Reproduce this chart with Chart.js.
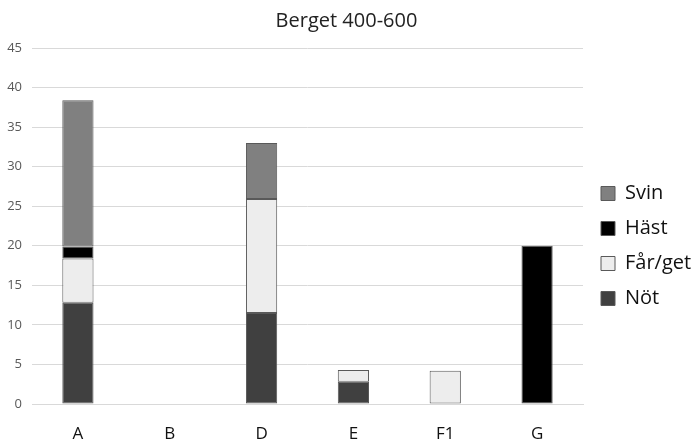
<!DOCTYPE html>
<html lang="sv">
<head>
  <meta charset="UTF-8" />
  <title>Berget 400-600</title>
  <script src="https://cdn.jsdelivr.net/npm/chart.js"></script>
  <style>
    html, body { margin: 0; padding: 0; background: #fff; }
    #wrap { width: 693px; height: 443px; position: relative; }
  </style>
</head>
<body>
  <div id="wrap"><canvas id="chart"></canvas></div>

  <script>
    const categories = ['A', 'B', 'D', 'E', 'F1', 'G'];
    const not = [12.8, 0, 11.5, 2.8, 0, 0];
    const farGet = [5.6, 0, 14.4, 1.5, 4.2, 0];
    const hast = [1.5, 0, 0, 0, 0, 20];
    const svin = [18.5, 0, 7.1, 0, 0, 0];
    const yTicks = [0, 5, 10, 15, 20, 25, 30, 35, 40, 45];

    const font = '"Open Sans", "Liberation Sans", sans-serif';

    function ds(label, data, color) {
      return {
        label: label,
        data: data,
        backgroundColor: color,
        borderColor: '#595959',
        borderWidth: 1,
        borderSkipped: false,
        barPercentage: 0.34,
        categoryPercentage: 1
      };
    }

    // legend sits a bit further from the plot than chart.js puts it
    const legendGap = {
      id: 'legendGap',
      beforeLayout(chart) {
        const lg = chart.legend;
        if (lg && !lg._gapPatched) {
          const fit = lg.fit;
          lg.fit = function () { fit.call(this); this.width = 110; };
          lg._gapPatched = true;
        }
      },
      afterLayout(chart) {
        const lg = chart.legend;
        lg.left += 3; lg.right += 3;
        lg.top += 20; lg.bottom += 20;
      }
    };

    new Chart(document.getElementById('chart'), {
      type: 'bar',
      data: {
        labels: categories,
        datasets: [
          ds('Nöt', not, '#404040'),
          ds('Får/get', farGet, '#ededed'),
          ds('Häst', hast, '#000000'),
          ds('Svin', svin, '#808080')
        ]
      },
      plugins: [legendGap],
      options: {
        responsive: true,
        maintainAspectRatio: false,
        animation: false,
        layout: { padding: { left: 0, right: 0, top: 9, bottom: 0 } },
        plugins: {
          title: {
            display: true,
            text: 'Berget 400-600',
            color: '#222',
            font: { family: font, size: 20, weight: 'normal' },
            padding: { top: 0, bottom: 15 }
          },
          legend: {
            position: 'right',
            reverse: true,
            labels: {
              color: '#111',
              font: { family: font, size: 20 },
              boxWidth: 14,
              boxHeight: 14,
              padding: 15
            }
          },
          tooltip: { enabled: false }
        },
        scales: {
          x: {
            stacked: true,
            grid: { display: false },
            border: { display: true, color: '#d9d9d9' },
            afterFit: axis => { axis.height = 39; },
            ticks: { color: '#111', font: { family: font, size: 17 }, padding: 12 }
          },
          y: {
            stacked: true,
            min: 0,
            max: 45,
            afterBuildTicks: axis => { axis.ticks = yTicks.map(v => ({ value: v })); },
            afterFit: axis => { axis.width = 32; },
            grid: { color: '#d9d9d9', drawTicks: false },
            border: { display: false },
            ticks: { color: '#595959', font: { family: font, size: 13 }, padding: 10 }
          }
        }
      }
    });
  </script>
</body>
</html>
